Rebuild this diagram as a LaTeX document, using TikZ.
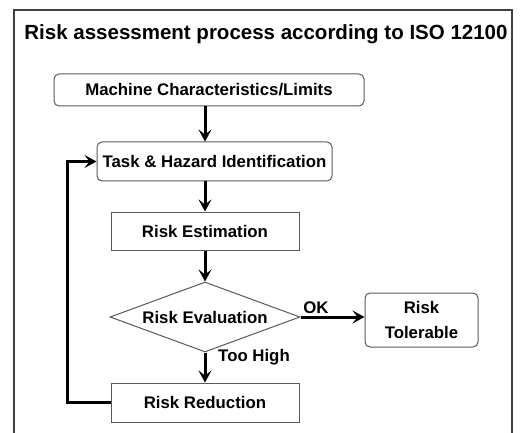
\documentclass[tikz,border=0pt]{standalone}
\usepackage{fontspec}
\setmainfont{Liberation Sans}
\usetikzlibrary{shapes.geometric,arrows.meta}
\tikzset{
  lbl/.style={font=\bfseries\fontsize{16.8}{24}\selectfont, inner sep=0pt},
  boxst/.style={draw=black!65, line width=1pt, inner sep=0pt, font=\bfseries\fontsize{16.8}{24.5}\selectfont, align=center},
  rbox/.style={boxst, rounded corners=5pt},
  flow/.style={line width=3pt, -{Stealth[length=12pt,width=13pt,inset=5pt]}},
}
\begin{document}
\begin{tikzpicture}[x=1pt,y=-1pt]
\useasboundingbox (0,0) rectangle (525,433);
\draw[line width=1.5pt, black!75] (14,433) -- (14,10) -- (512,10) -- (512,433);
\node[anchor=base, inner sep=0pt, font=\bfseries\fontsize{20.5}{24}\selectfont] (title) at (266,40) {Risk assessment process according to ISO 12100};
\node[rbox, minimum width=310pt, minimum height=32pt] (mach) at (209,90) {Machine Characteristics/Limits};
\node[rbox, minimum width=235pt, minimum height=39pt] (task) at (214.5,161.5) {Task \& Hazard Identification};
\node[boxst, minimum width=188pt, minimum height=38pt] (est) at (205,231) {Risk Estimation};
\node[boxst, diamond, shape aspect=2.7, minimum width=190pt, minimum height=70pt] (eval) at (205,317) {Risk Evaluation};
\node[rbox, minimum width=113pt, minimum height=54pt] (tol) at (421.5,320) {Risk\\Tolerable};
\node[boxst, minimum width=188pt, minimum height=39pt] (red) at (205,402.5) {Risk Reduction};
\node[lbl] (ok) at (316,308) {OK};
\node[lbl] (high) at (254,357) {Too High};
\coordinate (lx) at (67,0);
\draw[flow] (mach.south -| est) -- (task.north -| est);
\draw[flow] (task.south -| est) -- (est.north);
\draw[flow] (est.south) -- (eval.north);
\draw[flow] (eval.east) -- (eval.east -| tol.west);
\draw[flow] (eval.south) -- (red.north);
\draw[flow] (red.west) -- (red.west -| lx) -- (task.west -| lx) -- (task.west);
\end{tikzpicture}
\end{document}
